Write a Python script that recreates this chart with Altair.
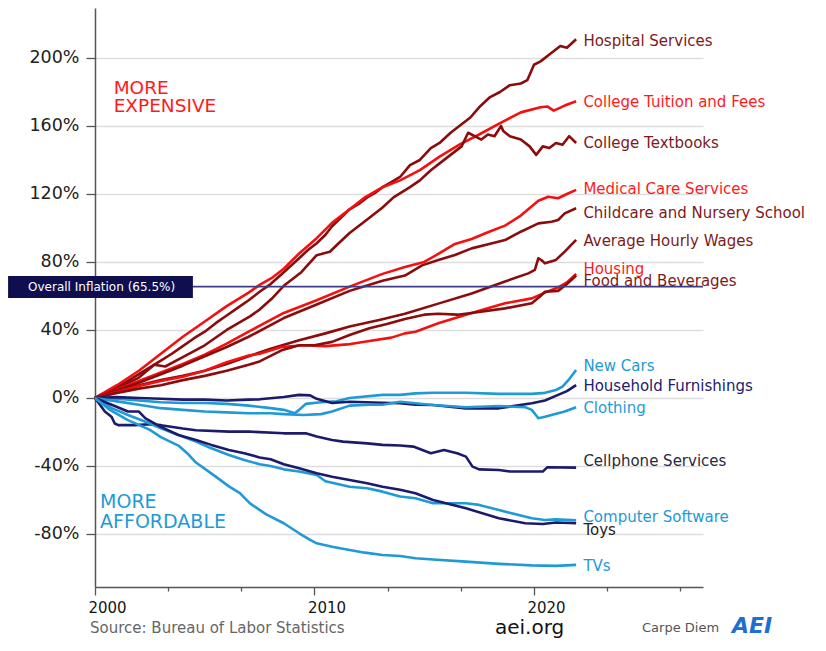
import altair as alt
import pandas as pd

# ---------------- data: % change in price since January 2000 ----------------
hosp_years = [2000, 2000.5, 2001, 2001.5, 2002, 2002.5, 2003, 2003.5, 2004, 2004.5, 2005, 2005.5, 2006, 2006.5, 2007, 2007.5, 2008, 2008.6, 2009.2, 2009.7, 2010.1, 2010.5, 2010.8, 2011.2, 2011.6, 2012.0, 2012.4, 2012.8, 2013.1, 2013.5, 2013.9, 2014.35, 2014.8, 2015.3, 2015.7, 2016.2, 2016.6, 2017.1, 2017.5, 2018.0, 2018.45, 2018.9, 2019.4, 2019.7, 2020.0, 2020.3, 2020.7, 2021.2, 2021.5, 2021.92]
hosp_vals = [0, 3, 6.5, 10, 14, 18, 22, 26, 30.5, 35, 39, 44, 48.5, 53, 57.5, 62.5, 67, 74, 81, 87, 91, 96, 101, 106, 111, 114, 118, 121, 124, 127, 130, 137, 140, 147, 150, 156, 160, 165, 171, 177, 180, 184, 185, 187, 196, 198, 202, 207, 206, 211]

tuit_years = [2000, 2001, 2002, 2003, 2004, 2005, 2006, 2007, 2007.5, 2008.1, 2008.6, 2009.3, 2010.1, 2010.8, 2011.6, 2012.3, 2013.1, 2013.9, 2014.8, 2015.7, 2016.6, 2017.5, 2018.5, 2019.4, 2020.3, 2020.6, 2020.9, 2021.4, 2021.92]
tuit_vals = [0, 7.5, 16, 26, 36, 45, 54, 62, 66.5, 71, 76, 85, 94, 103, 111, 118, 124, 128, 134, 142, 149, 155, 162, 168, 171, 171.5, 169, 172, 174.5]

tb_years = [2000, 2001, 2002, 2002.7, 2003.2, 2004, 2005, 2006, 2007.06, 2007.5, 2008.1, 2008.6, 2009.4, 2010.1, 2010.7, 2011.1, 2011.6, 2012.4, 2013.1, 2013.6, 2014.35, 2014.8, 2015.3, 2015.7, 2016.2, 2016.7, 2017.0, 2017.3, 2017.6, 2017.9, 2018.2, 2018.5, 2018.6, 2018.9, 2019.4, 2019.8, 2020.1, 2020.4, 2020.7, 2021.0, 2021.3, 2021.6, 2021.92]
tb_vals = [0, 5.5, 12, 19.5, 18.5, 24, 31, 40, 48, 52, 59, 66, 74, 84, 86, 91, 97, 105, 112, 118, 124, 128, 134, 138, 143, 148, 156, 154, 152, 155, 154, 160, 157, 154, 152, 148, 143, 148, 147, 150, 149, 154, 150]

med_years = [2000, 2001, 2002, 2003, 2004, 2005, 2006, 2007, 2008.6, 2010.1, 2011.6, 2013.1, 2014.12, 2015.0, 2015.64, 2016.4, 2017.16, 2017.9, 2018.68, 2019.4, 2020.2, 2020.65, 2021.1, 2021.5, 2021.92]
med_vals = [0, 5, 10, 15, 20, 25.5, 32, 39, 50, 57.5, 65.5, 73, 77, 80, 84.7, 90.6, 93.5, 97.5, 101.4, 107.3, 116, 118.4, 117.5, 120, 122.4]

cc_years = [2000, 2001, 2002, 2003, 2004, 2005, 2006, 2007, 2008.6, 2010.1, 2011.6, 2013.1, 2014.12, 2014.9, 2015.64, 2016.4, 2017.16, 2018.1, 2018.68, 2019.4, 2020.2, 2020.8, 2021.1, 2021.4, 2021.92]
cc_vals = [0, 4.5, 9, 14, 19, 24.5, 30, 36, 47, 55, 63, 69, 72, 78, 81.2, 84.1, 88, 91, 92.9, 97.8, 102.7, 103.7, 104.7, 108.6, 111.6]

wg_years = [2000, 2001, 2002, 2003, 2004, 2005, 2006, 2007, 2008, 2009.3, 2010.5, 2011.6, 2013.0, 2014.12, 2015.64, 2017.16, 2018.68, 2019.74, 2020.04, 2020.2, 2020.35, 2020.5, 2021.0, 2021.4, 2021.92]
wg_vals = [0, 4, 7.5, 10.5, 13, 16, 20, 24.5, 29, 34, 38, 42, 46, 49.5, 55.5, 61.5, 68.5, 73.3, 75.3, 82.2, 81, 79.2, 81.2, 86.1, 93]

hs_years = [2000, 2001, 2002, 2003, 2004, 2005, 2006, 2007, 2007.5, 2008.5, 2009.5, 2010.5, 2011.5, 2012.5, 2013.5, 2014.12, 2014.6, 2015.64, 2017.16, 2018.68, 2019.9, 2020.5, 2021.1, 2021.5, 2021.92]
hs_vals = [0, 3.5, 7, 10, 12.5, 16, 21, 25, 26, 30, 31, 30.5, 31.5, 33.5, 35.5, 38, 39, 44, 50, 55.7, 58.6, 62, 65, 68, 73]

fd_years = [2000, 2001, 2002, 2003, 2004, 2005, 2006, 2007, 2007.5, 2008.5, 2009.3, 2010.0, 2010.8, 2011.6, 2012.5, 2013.3, 2014.12, 2015.0, 2015.64, 2016.5, 2017.16, 2018.68, 2019.9, 2020.3, 2020.5, 2021.1, 2021.5, 2021.92]
fd_vals = [0, 3, 5.5, 7.5, 10.5, 13, 16, 19.5, 21.5, 28, 31, 31, 33, 37, 41, 43.5, 46.5, 49, 49.5, 49, 50, 52.7, 55.7, 60, 62.5, 63, 67, 72]

nc_years = [2000, 2001, 2002, 2003, 2004, 2005, 2006, 2007, 2008, 2008.6, 2009.1, 2009.3, 2009.6, 2010.3, 2011.0, 2011.6, 2013.1, 2013.9, 2014.6, 2015.4, 2016.9, 2018.4, 2019.9, 2020.5, 2021.0, 2021.3, 2021.6, 2021.92]
nc_vals = [0, -0.5, -1.5, -2.5, -3, -3, -3.5, -4.5, -6, -7, -9, -7, -3.5, -2.5, -2, 0, 1.8, 1.8, 2.7, 3.1, 3.1, 2.4, 2.4, 3, 4.7, 6.7, 11, 16.5]

hf_years = [2000, 2001, 2002, 2003, 2004, 2005, 2006, 2007, 2007.5, 2008.6, 2009.3, 2009.8, 2010.1, 2010.8, 2011.6, 2013.1, 2013.9, 2014.6, 2015.4, 2016.9, 2018.4, 2019.9, 2020.5, 2021.1, 2021.5, 2021.92]
hf_vals = [0, 0.5, 0, -0.5, -1, -1, -1.5, -1, -0.8, 0.6, 1.8, 1.5, -0.5, -3, -2.2, -2.8, -3.1, -4, -4.1, -6.1, -6.1, -3.1, -1.5, 1.8, 4, 7.6]

cl_years = [2000, 2001, 2002, 2003, 2004, 2005, 2006, 2007, 2008, 2008.6, 2009.5, 2010.3, 2010.8, 2011.6, 2012.5, 2013.1, 2013.9, 2015.4, 2016.9, 2018.4, 2019.6, 2019.9, 2020.2, 2020.5, 2020.8, 2021.1, 2021.4, 2021.92]
cl_vals = [0, -2, -4, -6, -7, -8, -8.5, -9, -9, -9.5, -10, -9.5, -8, -4.5, -4, -4, -2.2, -4.1, -5.5, -4.7, -5.5, -7, -11.9, -11, -10, -9, -8, -5.5]

cp_years = [2000, 2000.45, 2000.75, 2000.9, 2001.06, 2001.8, 2002.5, 2003, 2004, 2004.6, 2006.1, 2007.06, 2008.6, 2009.6, 2010.1, 2010.8, 2011.3, 2012.4, 2013.1, 2013.9, 2014.5, 2015.3, 2015.9, 2016.5, 2016.9, 2017.2, 2017.5, 2018.4, 2018.9, 2020.4, 2020.6, 2021.92]
cp_vals = [0, -8, -11, -15, -16, -16, -15.5, -16, -18, -19, -19.8, -19.8, -20.8, -20.8, -22.7, -24.7, -25.7, -26.7, -27.6, -28, -28.6, -32.5, -30.6, -32.5, -34.5, -40.4, -42, -42.4, -43.3, -43.3, -40.8, -41]

sw_years = [2000, 2000.76, 2001.5, 2002.3, 2003, 2003.8, 2004.6, 2005.3, 2006.1, 2006.8, 2007.5, 2008.0, 2008.6, 2009.3, 2010.1, 2010.5, 2011.6, 2012.4, 2013.1, 2013.9, 2014.6, 2015.4, 2016.9, 2017.5, 2018.4, 2019.9, 2020.5, 2021.0, 2021.92]
sw_vals = [0, -6, -10, -14, -17.8, -21.8, -25.7, -29.6, -33.5, -36.5, -39, -40, -42, -43.3, -45.3, -49, -52.2, -53.1, -55.1, -58, -59, -61.9, -61.9, -62.9, -65.9, -70.8, -71.8, -71.4, -72]

ty_years = [2000, 2000.76, 2001.5, 2002, 2002.3, 2003, 2003.8, 2004.6, 2005.3, 2006.1, 2006.8, 2007.5, 2008.0, 2008.6, 2009.3, 2010.1, 2010.8, 2011.6, 2012.4, 2013.1, 2013.9, 2014.6, 2015.4, 2016.9, 2018.4, 2019.6, 2020.4, 2021.0, 2021.92]
ty_vals = [0, -4, -8, -8, -12, -17, -21.8, -24.7, -27.6, -30.6, -32.5, -35, -36, -39, -41.4, -44.3, -46.3, -48.2, -50.2, -52.2, -54, -56, -60, -64.9, -70.8, -73.7, -74.1, -73.3, -73.7]

tv_years = [2000, 2000.68, 2001.5, 2002.5, 2003, 2003.8, 2004.2, 2004.6, 2005.5, 2006.1, 2006.6, 2007.06, 2007.8, 2008.6, 2009.3, 2009.8, 2010.1, 2010.8, 2011.6, 2012.3, 2013.1, 2013.9, 2014.6, 2015.4, 2016.9, 2018.4, 2019.9, 2021.0, 2021.92]
tv_vals = [0, -7, -13, -18.8, -23, -28, -32.5, -38, -46.3, -52, -56, -62, -68.5, -73.7, -79.6, -83.5, -85.5, -87.5, -89.4, -91, -92.4, -93, -94.3, -95, -96.3, -97.6, -98.5, -98.8, -98.2]

series_names = ["Hospital Services", "College Tuition and Fees", "College Textbooks",
                "Medical Care Services", "Childcare and Nursery School", "Average Hourly Wages",
                "Housing", "Food and Beverages", "New Cars", "Household Furnishings", "Clothing",
                "Cellphone Services", "Computer Software", "Toys", "TVs"]
series_years = [hosp_years, tuit_years, tb_years, med_years, cc_years, wg_years, hs_years, fd_years,
                nc_years, hf_years, cl_years, cp_years, sw_years, ty_years, tv_years]
series_vals = [hosp_vals, tuit_vals, tb_vals, med_vals, cc_vals, wg_vals, hs_vals, fd_vals,
               nc_vals, hf_vals, cl_vals, cp_vals, sw_vals, ty_vals, tv_vals]

# label placement (value axis) at the right end of each line
label_vals = [210, 174, 150, 123, 109, 92.4, 75.9, 68.8, 18.8, 7, -5.9, -37, -70, -77.6, -98.8]
overall_inflation = 65.5

# ---------------- styles ----------------
RED = "#f51010"
DRED = "#8a0c0c"
LBLUE = "#1f9ad6"
NAVY = "#1c1a6a"
line_colors = [DRED, RED, DRED, RED, DRED, DRED, RED, DRED, LBLUE, NAVY, LBLUE, NAVY, LBLUE, NAVY, LBLUE]
label_colors = ["#7d1a1a", "#ff1a1a", "#7d1a1a", "#ff1a1a", "#7d1a1a", "#7d1a1a", "#ff1a1a", "#7d1a1a",
                "#1f9ad6", "#22206e", "#1f9ad6", "#2a2a40", "#1f9ad6", "#222222", "#1f9ad6"]
FONT = "DejaVu Sans"

rows = []
for n, ys, vs, c in zip(series_names, series_years, series_vals, line_colors):
    for yy, vv in zip(ys, vs):
        rows.append({"series": n, "year": yy, "pct": vv, "color": c})
df = pd.DataFrame(rows)

label_df = pd.DataFrame({"text": series_names, "year": [2022.25] * len(series_names),
                         "pct": label_vals, "color": label_colors})

tick_vals = [round(2000 + k * 10 / 12, 4) for k in range(34)]

x_axis = alt.Axis(values=tick_vals, labelExpr="datum.value % 10 == 0 ? '' + datum.value : ''",
                  labelFlush=False, labelOverlap=False, labelOffset=12, labelPadding=5,
                  labelFont=FONT, labelFontSize=15, labelColor="#151515",
                  tickSize={"condition": {"test": "datum.value % 10 == 0", "value": 8}, "value": 4},
                  tickColor="#555555", tickWidth=1.3, domainColor="#555555", domainWidth=1.5,
                  grid=False)
y_axis = alt.Axis(values=[-80, -40, 0, 40, 80, 120, 160, 200], labelExpr="datum.value + '%'",
                  labelFont=FONT, labelFontSize=17.5, labelColor="#222222", labelPadding=7,
                  tickSize=9, tickColor="#555555", tickWidth=1.3, domainColor="#555555",
                  domainWidth=1.5, grid=True, gridColor="#dddddd", gridWidth=1.5)

X = alt.X("year:Q", title=None, scale=alt.Scale(domain=[2000, 2027.7], nice=False, zero=False), axis=x_axis)
Y = alt.Y("pct:Q", title=None, scale=alt.Scale(domain=[-111.2, 229.4], nice=False, zero=False), axis=y_axis)
Xp = alt.X("year:Q", title=None)
Yp = alt.Y("pct:Q", title=None)

lines = alt.Chart(df).mark_line(strokeWidth=2.6, strokeJoin="round").encode(
    x=X, y=Y, detail="series:N", color=alt.Color("color:N", scale=None), order="year:Q")

rule = alt.Chart(pd.DataFrame({"pct": [overall_inflation]})).mark_rule(
    color="#3c3c88", strokeWidth=1.6).encode(y=Yp)

box = alt.Chart(pd.DataFrame({"year": [1996.04], "year2": [2004.46], "pct": [71.8], "pct2": [58.8]})).mark_rect(
    color="#0f0f4f").encode(x=Xp, x2="year2:Q", y=Yp, y2="pct2:Q")

box_text = alt.Chart(pd.DataFrame({"year": [2000.3], "pct": [65.3],
                                   "t": ["Overall Inflation (65.5%)"]})).mark_text(
    font=FONT, fontSize=12, color="white", align="center", baseline="middle").encode(x=Xp, y=Yp, text="t:N")

labels = alt.Chart(label_df).mark_text(font=FONT, fontSize=15, align="left", baseline="middle").encode(
    x=Xp, y=Yp, text="text:N", color=alt.Color("color:N", scale=None))

exp_text = alt.Chart(pd.DataFrame({"year": [2000.85, 2000.85], "pct": [182.6, 171.8],
                                   "t": ["MORE", "EXPENSIVE"]})).mark_text(
    font=FONT, fontSize=18.5, color="#ff1a1a", align="left", baseline="middle").encode(x=Xp, y=Yp, text="t:N")

aff_text = alt.Chart(pd.DataFrame({"year": [2000.23, 2000.23], "pct": [-61, -72.8],
                                   "t": ["MORE", "AFFORDABLE"]})).mark_text(
    font=FONT, fontSize=19, color="#1f9ad6", align="left", baseline="middle").encode(x=Xp, y=Yp, text="t:N")

src = alt.Chart(pd.DataFrame({"t": ["Source: Bureau of Labor Statistics"]})).mark_text(
    font=FONT, fontSize=15, color="#666666", align="left", baseline="middle").encode(
    text="t:N", x=alt.value(-5), y=alt.value(620))
aei = alt.Chart(pd.DataFrame({"t": ["aei.org"]})).mark_text(
    font=FONT, fontSize=20, color="#111111", align="left", baseline="middle").encode(
    text="t:N", x=alt.value(400), y=alt.value(620))
carpe = alt.Chart(pd.DataFrame({"t": ["Carpe Diem"]})).mark_text(
    font=FONT, fontSize=13, color="#555555", align="left", baseline="middle").encode(
    text="t:N", x=alt.value(547), y=alt.value(620))
logo = alt.Chart(pd.DataFrame({"t": ["AEI"]})).mark_text(
    font=FONT, fontSize=22, fontWeight="bold", fontStyle="italic", color="#1e6fd0",
    align="left", baseline="middle").encode(text="t:N", x=alt.value(637), y=alt.value(618))

chart = alt.layer(lines, rule, box, box_text, labels, exp_text, aff_text, src, aei, carpe, logo).properties(
    width=608, height=579,
    padding={"left": 87, "top": 0, "right": 111, "bottom": 52},
    autosize=alt.AutoSizeParams(type="none"),
    background="white",
).configure_view(stroke=None)

chart.save("out.html", embed_options={"renderer": "svg", "actions": False})
